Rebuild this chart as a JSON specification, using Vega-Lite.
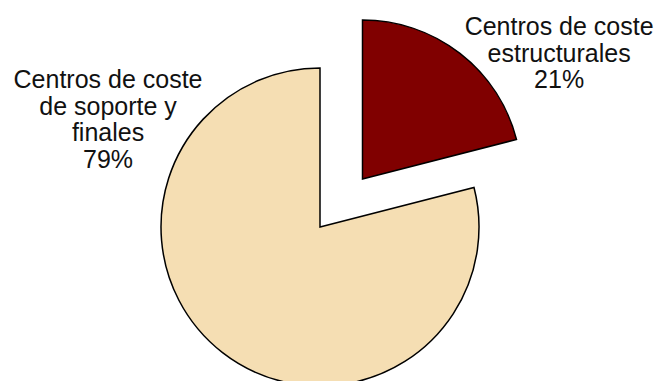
{
  "$schema": "https://vega.github.io/schema/vega-lite/v6.json",
  "width": 640,
  "height": 308,
  "autosize": "none",
  "padding": {"left": 0, "top": 73, "right": 21, "bottom": 0},
  "background": "white",
  "config": {"view": {"stroke": null}},
  "data": {
    "values": [
      {"category": "Centros de coste estructurales", "label": "Centros de coste\nestructurales\n21%", "value": 21, "ord": 1},
      {"category": "Centros de coste de soporte y finales", "label": "Centros de coste\nde soporte y\nfinales\n79%", "value": 79, "ord": 2}
    ]
  },
  "layer": [
    {
      "mark": {"type": "arc", "outerRadius": 159, "stroke": "#000000", "strokeWidth": 1.5},
      "encoding": {
        "theta": {"field": "value", "type": "quantitative", "stack": true},
        "order": {"field": "ord", "type": "quantitative"},
        "color": {"field": "category", "type": "nominal", "legend": null,
          "scale": {"domain": ["Centros de coste estructurales", "Centros de coste de soporte y finales"], "range": ["#800000", "#F5DEB3"]}},
        "opacity": {"condition": {"test": "datum.ord === 1", "value": 0}, "value": 1}
      }
    },
    {
      "mark": {"type": "arc", "outerRadius": 159, "stroke": "#000000", "strokeWidth": 1.5, "xOffset": 42.5, "yOffset": -48},
      "encoding": {
        "theta": {"field": "value", "type": "quantitative", "stack": true},
        "order": {"field": "ord", "type": "quantitative"},
        "color": {"field": "category", "type": "nominal", "legend": null,
          "scale": {"domain": ["Centros de coste estructurales", "Centros de coste de soporte y finales"], "range": ["#800000", "#F5DEB3"]}},
        "opacity": {"condition": {"test": "datum.ord === 1", "value": 1}, "value": 0}
      }
    },
    {
      "transform": [{"filter": "datum.ord === 1"}],
      "mark": {"type": "text", "font": "Liberation Sans", "fontSize": 25, "lineHeight": 26.6, "lineBreak": "\n", "align": "center", "baseline": "alphabetic", "color": "#111111"},
      "encoding": {
        "text": {"field": "label"},
        "theta": {"value": 0.8946},
        "radius": {"value": 306.6}
      }
    },
    {
      "transform": [{"filter": "datum.ord === 2"}],
      "mark": {"type": "text", "font": "Liberation Sans", "fontSize": 25, "lineHeight": 26.6, "lineBreak": "\n", "align": "center", "baseline": "alphabetic", "color": "#111111"},
      "encoding": {
        "text": {"field": "label"},
        "theta": {"value": 5.2929},
        "radius": {"value": 253.5}
      }
    }
  ]
}
